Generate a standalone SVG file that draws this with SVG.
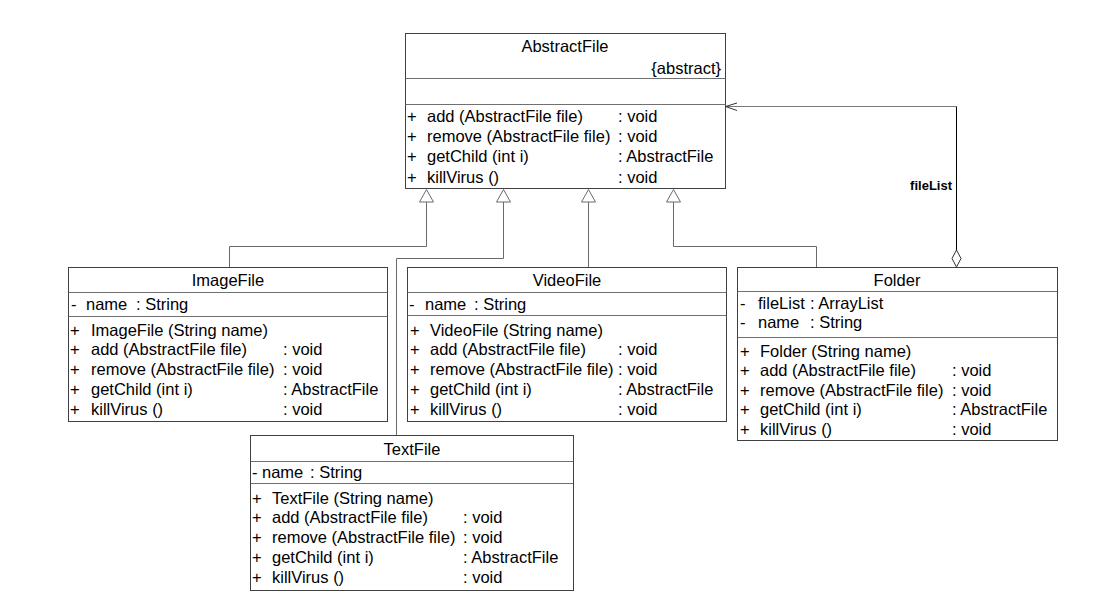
<svg xmlns="http://www.w3.org/2000/svg" width="1106" height="613" viewBox="0 0 1106 613">
<style>
text{font-family:"Liberation Sans",Arial,sans-serif;font-size:16.5px;fill:#000}
.c{text-anchor:middle}
.r{text-anchor:end}
.box{fill:#fff;stroke:#404040;stroke-width:1}
.sep{stroke:#707070;stroke-width:1}
.gen{fill:none;stroke:#6a6a6a;stroke-width:1}
.tri{fill:#fff;stroke:#6a6a6a;stroke-width:1}
.lbl{font-size:13px;font-weight:bold}
</style>
<rect width="1106" height="613" fill="#fff"/>
<g id="connectors">
  <polyline class="gen" points="229.5,267 229.5,246.5 426.5,246.5 426.5,202"/>
  <polyline class="gen" points="396.5,435 396.5,258.5 503.5,258.5 503.5,202"/>
  <polyline class="gen" points="588.5,267 588.5,202"/>
  <polyline class="gen" points="816.5,267 816.5,246.5 673.5,246.5 673.5,202"/>
  <polygon class="tri" points="426.5,189.5 419.5,202 433.5,202"/>
  <polygon class="tri" points="503.5,189.5 496.5,202 510.5,202"/>
  <polygon class="tri" points="588.5,189.5 581.5,202 595.5,202"/>
  <polygon class="tri" points="673.5,189.5 666.5,202 680.5,202"/>
  <polyline fill="none" stroke="#7a7a7a" stroke-width="1" points="725,106.5 956.5,106.5"/>
  <line x1="956.5" y1="106.5" x2="956.5" y2="250" stroke="#000" stroke-width="1"/>
  <polygon points="956.5,250 961,258.5 956.5,267 952,258.5" fill="#fff" stroke="#333" stroke-width="1"/>
  <polyline fill="none" stroke="#333" stroke-width="1" points="737,103 725.5,106.5 737,110.5"/>
  <text class="r lbl" x="952" y="190">fileList</text>
</g>
<g id="AbstractFile">
  <rect class="box" x="405.5" y="33.5" width="320" height="155"/>
  <line class="sep" x1="405.5" y1="78.5" x2="725.5" y2="78.5"/>
  <line class="sep" x1="405.5" y1="104.5" x2="725.5" y2="104.5"/>
  <text class="c" x="565" y="52">AbstractFile</text>
  <text class="r" x="721" y="74">{abstract}</text>
  <text x="407" y="122">+</text><text x="427" y="122">add (AbstractFile file)</text><text x="618" y="122">: void</text>
  <text x="407" y="142">+</text><text x="427" y="142">remove (AbstractFile file)</text><text x="618" y="142">: void</text>
  <text x="407" y="162">+</text><text x="427" y="162">getChild (int i)</text><text x="618" y="162">: AbstractFile</text>
  <text x="407" y="182.5">+</text><text x="427" y="182.5">killVirus ()</text><text x="618" y="182.5">: void</text>
</g>
<g id="ImageFile">
  <rect class="box" x="68.5" y="267.5" width="319" height="154"/>
  <line class="sep" x1="68.5" y1="292.5" x2="387.5" y2="292.5"/>
  <line class="sep" x1="68.5" y1="316.5" x2="387.5" y2="316.5"/>
  <text class="c" x="228" y="286">ImageFile</text>
  <text x="71" y="309.5">-</text><text x="86" y="309.5">name</text><text x="136" y="309.5">: String</text>
  <text x="70" y="335.5">+</text><text x="91" y="335.5">ImageFile (String name)</text>
  <text x="70" y="355">+</text><text x="91" y="355">add (AbstractFile file)</text><text x="283" y="355">: void</text>
  <text x="70" y="375">+</text><text x="91" y="375">remove (AbstractFile file)</text><text x="283" y="375">: void</text>
  <text x="70" y="395">+</text><text x="91" y="395">getChild (int i)</text><text x="283" y="395">: AbstractFile</text>
  <text x="70" y="415">+</text><text x="91" y="415">killVirus ()</text><text x="283" y="415">: void</text>
</g>
<g id="VideoFile">
  <rect class="box" x="407.5" y="267.5" width="319" height="154"/>
  <line class="sep" x1="407.5" y1="292.5" x2="726.5" y2="292.5"/>
  <line class="sep" x1="407.5" y1="315.5" x2="726.5" y2="315.5"/>
  <text class="c" x="567" y="286">VideoFile</text>
  <text x="409" y="309.5">-</text><text x="425" y="309.5">name</text><text x="474" y="309.5">: String</text>
  <text x="410" y="335.5">+</text><text x="430" y="335.5">VideoFile (String name)</text>
  <text x="410" y="355">+</text><text x="430" y="355">add (AbstractFile file)</text><text x="618" y="355">: void</text>
  <text x="410" y="375">+</text><text x="430" y="375">remove (AbstractFile file)</text><text x="618" y="375">: void</text>
  <text x="410" y="395">+</text><text x="430" y="395">getChild (int i)</text><text x="618" y="395">: AbstractFile</text>
  <text x="410" y="415">+</text><text x="430" y="415">killVirus ()</text><text x="618" y="415">: void</text>
</g>
<g id="TextFile">
  <rect class="box" x="250.5" y="435.5" width="323" height="155"/>
  <line class="sep" x1="250.5" y1="461.5" x2="573.5" y2="461.5"/>
  <line class="sep" x1="250.5" y1="483.5" x2="573.5" y2="483.5"/>
  <text class="c" x="412" y="455">TextFile</text>
  <text x="252" y="478">-</text><text x="262" y="478">name</text><text x="310" y="478">: String</text>
  <text x="252" y="503.5">+</text><text x="272" y="503.5">TextFile (String name)</text>
  <text x="252" y="523">+</text><text x="272" y="523">add (AbstractFile file)</text><text x="463" y="523">: void</text>
  <text x="252" y="543">+</text><text x="272" y="543">remove (AbstractFile file)</text><text x="463" y="543">: void</text>
  <text x="252" y="563">+</text><text x="272" y="563">getChild (int i)</text><text x="463" y="563">: AbstractFile</text>
  <text x="252" y="583">+</text><text x="272" y="583">killVirus ()</text><text x="463" y="583">: void</text>
</g>
<g id="Folder">
  <rect class="box" x="737.5" y="267.5" width="320" height="173"/>
  <line class="sep" x1="737.5" y1="291.5" x2="1057.5" y2="291.5"/>
  <line class="sep" x1="737.5" y1="337.5" x2="1057.5" y2="337.5"/>
  <text class="c" x="897" y="286">Folder</text>
  <text x="740" y="308.5">-</text><text x="758" y="308.5">fileList</text><text x="810" y="308.5">: ArrayList</text>
  <text x="740" y="328">-</text><text x="758" y="328">name</text><text x="810" y="328">: String</text>
  <text x="740" y="356.5">+</text><text x="760" y="356.5">Folder (String name)</text>
  <text x="740" y="376">+</text><text x="760" y="376">add (AbstractFile file)</text><text x="952" y="376">: void</text>
  <text x="740" y="395.5">+</text><text x="760" y="395.5">remove (AbstractFile file)</text><text x="952" y="395.5">: void</text>
  <text x="740" y="415">+</text><text x="760" y="415">getChild (int i)</text><text x="952" y="415">: AbstractFile</text>
  <text x="740" y="435">+</text><text x="760" y="435">killVirus ()</text><text x="952" y="435">: void</text>
</g>
</svg>
